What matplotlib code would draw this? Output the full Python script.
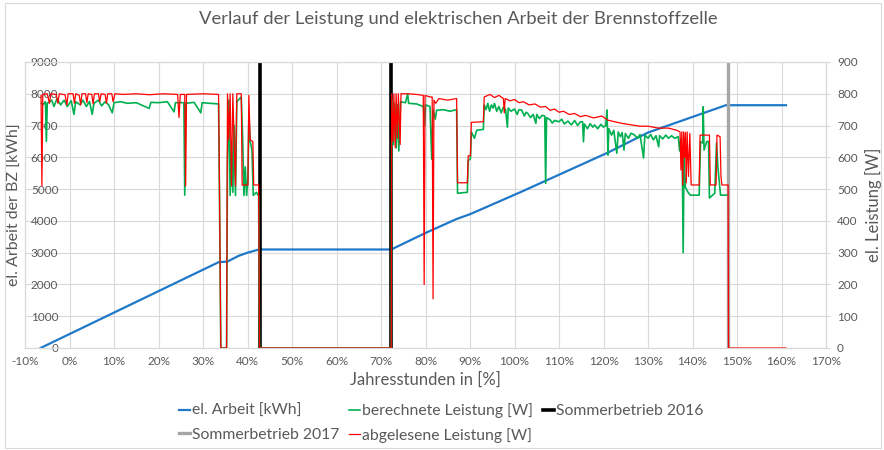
import numpy as np
import matplotlib
matplotlib.use('Agg')
import matplotlib.pyplot as plt
from matplotlib.ticker import FuncFormatter, MultipleLocator
from matplotlib.patches import Rectangle

plt.rcParams['font.family'] = ['Lato', 'DejaVu Sans']

# el. Arbeit [kWh] (left axis), x in % of the year hours
arbeit_x = [-6.5, 33.5, 35.5, 38, 40, 42.6, 72.3, 80, 87, 90, 101.6, 121, 130, 147.5, 161]
arbeit_y = [0, 2700, 2720, 2900, 3000, 3100, 3100, 3620, 4060, 4210, 4920, 6150, 6780, 7640, 7640]

# berechnete Leistung [W] (right axis)
berechnet_x = [-6.3, -6.0, -5.4, -5.2, -5.0, -4.0, -3.5, -2.8, -2.0, -1.2, -0.5, 0.4, 1.0, 1.4,
               2.4, 3.0, 3.8, 4.5, 5.1, 5.5, 6.5, 7.2, 8.0, 8.8, 9.6, 10.0, 11.5, 13, 15, 17.9,
               18.3, 20, 22, 23.5, 23.8, 25.7, 25.9, 26.1, 28, 29.5, 29.8, 31.5, 33.5, 33.7,
               34.0, 35.3, 35.5, 35.8, 36.1, 36.4, 36.7, 37.0, 37.3, 37.6, 38.6, 38.9, 39.2,
               39.5, 39.8, 40.1, 40.3, 40.6, 41.0, 41.3, 42.0, 42.5, 42.7, 72.3,
               72.4, 72.6, 72.8, 73.1, 73.4, 73.7, 74.0, 74.4, 75.5, 76.0, 76.2, 78, 79.5,
               79.8, 80.0, 81.0, 81.4, 81.7, 82.2, 82.5, 84, 85.5, 87.0, 87.2, 89.4, 89.6,
               90.1, 90.3, 91.0, 91.5, 93.0, 93.2, 93.6, 94.0, 94.4, 94.8, 95.2, 95.5, 96.0,
               96.5, 97.0, 97.5, 98.0, 98.4, 98.6, 99.2, 100, 100.6, 101.0, 101.6, 102.2,
               102.6, 103, 103.6, 104.2, 104.8, 105.0, 105.6, 106.2, 106.8, 107.0, 107.2,
               108, 108.5, 109, 110, 110.6, 111.2, 112, 112.8, 113.5, 114.2, 114.8, 115.3,
               115.5, 115.7, 116.4, 117, 117.6, 118, 118.7, 119.4, 120, 120.5, 120.8, 121.0,
               121.2, 121.8, 122.3, 123.0, 123.3, 123.8, 124.2, 124.6, 124.9, 125.6, 126.2,
               127, 127.6, 128.2, 129, 129.3, 130, 130.6, 131.2, 131.8, 132.4, 132.6, 133.3,
               134, 134.6, 135.3, 136, 136.8, 137.1, 137.4, 137.7, 137.9, 138.1, 138.4,
               139.0, 139.5, 141.5, 141.8, 142.3, 142.4, 142.6, 143.2, 143.6, 143.8, 145.0,
               145.4, 145.7, 146.3, 147.7]
berechnet_y = [770, 765, 775, 650, 770, 780, 760, 785, 765, 780, 760, 778, 735, 775,
               765, 780, 760, 776, 735, 770, 780, 762, 775, 765, 740, 772, 775, 770, 772, 754,
               773, 772, 775, 743, 772, 772, 481, 770, 773, 740, 772, 770, 768, 480,
               0, 0, 590, 780, 480, 650, 490, 700, 480, 775, 790, 665, 480,
               570, 480, 530, 728, 650, 623, 480, 490, 478, 0, 0,
               650, 780, 640, 770, 630, 765, 620, 775, 772, 800, 770, 768, 760,
               700, 765, 760, 594, 750, 720, 748, 750, 745, 750, 487, 490, 590,
               595, 680, 660, 685, 688, 765, 750, 770, 745, 765, 755, 770, 745,
               760, 740, 758, 750, 695, 755, 745, 752, 735, 750, 749, 730,
               742, 738, 725, 735, 707, 735, 722, 732, 730, 518, 725,
               718, 708, 716, 712, 720, 705, 714, 702, 716, 700, 712, 712,
               649, 705, 690, 706, 695, 702, 690, 704, 695, 700, 749, 607,
               690, 670, 685, 613, 680, 665, 678, 623, 675, 660, 676,
               670, 660, 672, 598, 670, 660, 672, 655, 668, 633, 668, 658,
               670, 660, 668, 660, 665, 620, 660, 600, 300, 600, 506,
               490, 481, 481, 649, 645, 759, 623, 650, 650, 472, 487,
               645, 570, 481, 481]

abgelesen_x = [-6.4, -6.2, -6.0, -5.0, -4.5, -4.2, -3.0, -2.6, -2.3, -1.0, -0.6, -0.3, 0.8,
               1.1, 1.4, 2.2, 2.5, 2.8, 3.6, 3.9, 4.2, 5.0, 5.3, 5.6, 6.5, 6.8, 7.1, 8.0, 8.3,
               8.6, 9.5, 9.8, 10.2, 12, 15, 18, 21, 24.3, 24.6, 24.9, 25.9, 26.1, 26.3, 30,
               33.5, 33.7, 34.0, 35.3, 35.5, 35.8, 36.1, 36.4, 36.7, 37.0, 37.3, 37.6, 38.6,
               38.8, 40.1, 40.3, 40.6, 41.2, 41.4, 42.5, 42.7, 72.3,
               72.4, 72.7, 72.9, 73.2, 73.4, 73.7, 73.9, 74.3, 74.5, 76, 78, 79.5, 79.7, 79.9,
               81.0, 81.5, 81.7, 81.9, 82.3, 83, 85, 87.0, 87.2, 89.4, 89.6, 90.1, 90.3, 93.0,
               93.2, 94.5, 95.5, 96.5, 97.5, 97.7, 97.9, 99, 100, 101, 102, 103.3, 104.6,
               105.8, 107, 108, 109, 110, 111, 112.3, 113.5, 114.8, 116, 117.8, 119.6, 121,
               122.5, 124.5, 126.4, 128.2, 130, 132.3, 134.6, 136.5, 137.2, 137.4, 137.6,
               137.8, 138.0, 138.2, 138.4, 138.6, 138.8, 139.1, 139.4, 139.7, 141.5, 141.7,
               143.8, 144.0, 145.3, 145.5, 146.2, 146.4, 146.6, 148.0, 148.1, 161.0]
abgelesen_y = [795, 510, 798, 800, 770, 800, 798, 770, 800, 797, 765, 800, 800,
               770, 800, 795, 765, 800, 800, 772, 800, 798, 768, 800, 800, 775, 800, 798, 770,
               800, 800, 775, 800, 798, 800, 797, 800, 798, 725, 798, 798, 510, 798, 800,
               798, 513, 0, 0, 800, 655, 800, 510, 800, 650, 510, 800, 800,
               513, 513, 795, 655, 650, 513, 513, 0, 0,
               800, 650, 800, 630, 800, 660, 800, 640, 800, 800, 798, 795, 200, 795,
               790, 790, 155, 780, 770, 785, 780, 785, 520, 520, 605, 605, 710, 712,
               790, 798, 788, 795, 785, 740, 785, 778, 782, 772, 775, 765, 768,
               758, 760, 748, 752, 742, 745, 735, 738, 728, 732, 724, 730, 717,
               712, 706, 702, 698, 698, 692, 692, 685, 680, 560, 680,
               513, 680, 600, 678, 520, 680, 540, 675, 513, 513, 670,
               670, 513, 513, 670, 665, 540, 513, 513, 0, 0]

# Sommerbetrieb markers (left axis)
sommer16_x = [42.7, 42.7, np.nan, 72.3, 72.3]
sommer16_y = [0, 9000, np.nan, 9000, 0]
sommer17_x = [148.0, 148.0]
sommer17_y = [0, 9000]

text_col = '#595959'
grid_col = '#d9d9d9'

fig = plt.figure(figsize=(8.84, 4.5), dpi=100)
ax = fig.add_axes([25 / 884, 1 - 348 / 450, 801 / 884, 286 / 450])
ax2 = ax.twinx()

# primary axis series
l_arbeit, = ax.plot(arbeit_x, arbeit_y, color='#1f78c8', lw=1.6, label='el. Arbeit [kWh]')
l_s16, = ax.plot(sommer16_x, sommer16_y, color='black', lw=2.6, label='Sommerbetrieb 2016')
l_s17, = ax.plot(sommer17_x, sommer17_y, color='#a6a6a6', lw=2.4, label='Sommerbetrieb 2017')

# secondary axis series
l_ber, = ax2.plot(berechnet_x, berechnet_y, color='#00b050', lw=1.2, label='berechnete Leistung [W]')
l_abg, = ax2.plot(abgelesen_x, abgelesen_y, color='#ff0000', lw=0.9, label='abgelesene Leistung [W]')

ax.set_xlim(-10, 170)
ax.set_ylim(0, 9000)
ax2.set_ylim(0, 900)
ax.xaxis.set_major_locator(MultipleLocator(10))
ax.yaxis.set_major_locator(MultipleLocator(1000))
ax2.yaxis.set_major_locator(MultipleLocator(100))
ax.xaxis.set_major_formatter(FuncFormatter(lambda v, p: f'{v:.0f}%'))

ax.grid(True, color=grid_col, lw=0.8)
ax.set_axisbelow(True)
for a in (ax, ax2):
    for s in a.spines.values():
        s.set_color(grid_col)
        s.set_linewidth(0.8)

ax.tick_params(axis='x', length=0, pad=6, labelsize=8.5, labelcolor=text_col)
ax.tick_params(axis='y', length=0, pad=-24, labelsize=8.5, labelcolor=text_col)
ax2.tick_params(axis='y', length=3, color=grid_col, pad=5, labelsize=8.5, labelcolor=text_col)

ax.set_xlabel('Jahresstunden in [%]', fontsize=12, color=text_col, labelpad=3)
ax.set_ylabel('el. Arbeit der BZ [kWh]', fontsize=11.5, color=text_col)
ax.yaxis.set_label_coords(-0.004, 0.5)
ax2.set_ylabel('el. Leistung [W]', fontsize=12, color=text_col)
ax2.yaxis.set_label_coords(1.049, 0.5)

fig.text(458 / 884, 1 - 19 / 450, 'Verlauf der Leistung und elektrischen Arbeit der Brennstoffzelle',
         ha='center', va='center', fontsize=13.3, color=text_col)

handles = [l_arbeit, l_s17, l_ber, l_abg, l_s16]
fig.legend(handles, [h.get_label() for h in handles], ncol=3, loc='center',
           bbox_to_anchor=(441 / 884, 1 - 423 / 450), frameon=False, fontsize=11.3,
           handlelength=0.7, handletextpad=0.15, columnspacing=0.6, labelspacing=0.6,
           labelcolor=text_col)

# chart border
fig.patches.append(Rectangle((5 / 884, 2 / 450), 876 / 884, 445 / 450, transform=fig.transFigure,
                             fill=False, edgecolor=grid_col, lw=0.8))

fig.savefig('out.png', dpi=100)
